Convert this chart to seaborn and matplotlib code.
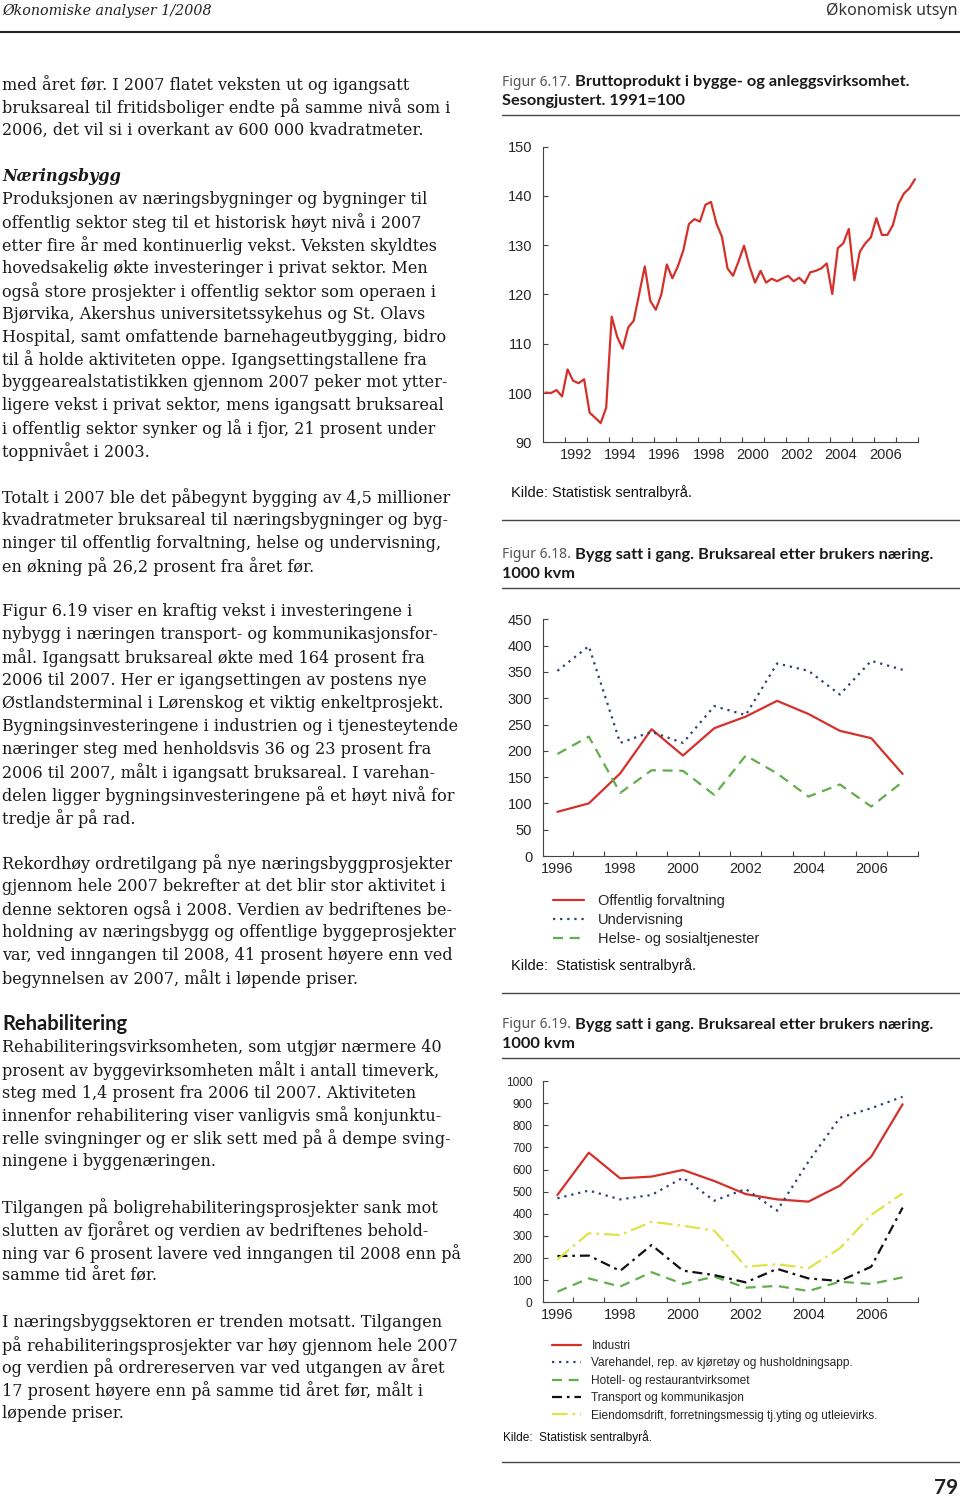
import matplotlib
matplotlib.use("Agg")
import matplotlib.pyplot as plt
from matplotlib.lines import Line2D
import numpy as np
import pandas as pd
import seaborn as sns

W, H = 960, 1499

# ------------------------------------------------------------
# Figur 6.17: bruttoprodukt, kvartalsvis 1991K1-2007K4 (1991=100)
# ------------------------------------------------------------
bp_years = list(range(1991, 2008))
bp_quarters = [1, 2, 3, 4]
bp_index = [
    100.1, 100.0, 100.6, 99.3,
    104.8, 102.5, 102.0, 102.8,
    96.0, 95.0, 93.9, 97.0,
    115.5, 111.4, 109.0, 113.3,
    114.7, 120.2, 125.7, 118.7,
    116.9, 120.0, 126.1, 123.3,
    125.7, 129.0, 134.3, 135.3,
    134.8, 138.2, 138.8, 134.4,
    131.7, 125.3, 123.8, 126.7,
    129.9, 125.7, 122.4, 124.8,
    122.4, 123.2, 122.7, 123.3,
    123.8, 122.7, 123.4, 122.3,
    124.5, 124.8, 125.3, 126.3,
    120.1, 129.4, 130.4, 133.3,
    122.9, 128.7, 130.4, 131.6,
    135.5, 132.1, 132.1, 134.1,
    138.4, 140.5, 141.6, 143.4,
]

# ------------------------------------------------------------
# Figur 6.18 / 6.19: bygg satt i gang, 1000 kvm
# ------------------------------------------------------------
aar = list(range(1996, 2008))

offentlig = [84, 100, 157, 241, 191, 243, 265, 295, 270, 238, 224, 156]
undervisning = [352, 399, 215, 236, 215, 285, 268, 366, 352, 307, 371, 354]
helse = [194, 227, 120, 163, 162, 116, 191, 157, 113, 136, 94, 141]

industri = [485, 676, 560, 568, 598, 548, 489, 465, 455, 527, 658, 895]
varehandel = [470, 505, 465, 485, 563, 459, 512, 414, 636, 834, 877, 929]
hotell = [48, 108, 71, 136, 83, 116, 66, 74, 51, 93, 83, 113]
transport = [209, 211, 142, 259, 143, 123, 90, 151, 108, 96, 161, 428]
eiendom = [194, 312, 304, 364, 346, 324, 161, 172, 154, 244, 395, 492]

names_618 = ["Offentlig forvaltning", "Undervisning", "Helse- og sosialtjenester"]
names_619 = [
    "Industri",
    "Varehandel, rep. av kjøretøy og husholdningsapp.",
    "Hotell- og restaurantvirksomet",
    "Transport og kommunikasjon",
    "Eiendomsdrift, forretningsmessig tj.yting og utleievirks.",
]

RED = "#d4312b"
BLUE = "#2f3f6e"
GREEN = "#62ad4c"
BLACK = "#111111"
YELLOW = "#dde448"

body_lines = [
    "med året før. I 2007 flatet veksten ut og igangsatt",
    "bruksareal til fritidsboliger endte på samme nivå som i",
    "2006, det vil si i overkant av 600 000 kvadratmeter.",
    "",
    "Næringsbygg",
    "Produksjonen av næringsbygninger og bygninger til",
    "offentlig sektor steg til et historisk høyt nivå i 2007",
    "etter fire år med kontinuerlig vekst. Veksten skyldtes",
    "hovedsakelig økte investeringer i privat sektor. Men",
    "også store prosjekter i offentlig sektor som operaen i",
    "Bjørvika, Akershus universitetssykehus og St. Olavs",
    "Hospital, samt omfattende barnehageutbygging, bidro",
    "til å holde aktiviteten oppe. Igangsettingstallene fra",
    "byggearealstatistikken gjennom 2007 peker mot ytter-",
    "ligere vekst i privat sektor, mens igangsatt bruksareal",
    "i offentlig sektor synker og lå i fjor, 21 prosent under",
    "toppnivået i 2003.",
    "",
    "Totalt i 2007 ble det påbegynt bygging av 4,5 millioner",
    "kvadratmeter bruksareal til næringsbygninger og byg-",
    "ninger til offentlig forvaltning, helse og undervisning,",
    "en økning på 26,2 prosent fra året før.",
    "",
    "Figur 6.19 viser en kraftig vekst i investeringene i",
    "nybygg i næringen transport- og kommunikasjonsfor-",
    "mål. Igangsatt bruksareal økte med 164 prosent fra",
    "2006 til 2007. Her er igangsettingen av postens nye",
    "Østlandsterminal i Lørenskog et viktig enkeltprosjekt.",
    "Bygningsinvesteringene i industrien og i tjenesteytende",
    "næringer steg med henholdsvis 36 og 23 prosent fra",
    "2006 til 2007, målt i igangsatt bruksareal. I varehan-",
    "delen ligger bygningsinvesteringene på et høyt nivå for",
    "tredje år på rad.",
    "",
    "Rekordhøy ordretilgang på nye næringsbyggprosjekter",
    "gjennom hele 2007 bekrefter at det blir stor aktivitet i",
    "denne sektoren også i 2008. Verdien av bedriftenes be-",
    "holdning av næringsbygg og offentlige byggeprosjekter",
    "var, ved inngangen til 2008, 41 prosent høyere enn ved",
    "begynnelsen av 2007, målt i løpende priser.",
    "",
    "Rehabilitering",
    "Rehabiliteringsvirksomheten, som utgjør nærmere 40",
    "prosent av byggevirksomheten målt i antall timeverk,",
    "steg med 1,4 prosent fra 2006 til 2007. Aktiviteten",
    "innenfor rehabilitering viser vanligvis små konjunktu-",
    "relle svingninger og er slik sett med på å dempe sving-",
    "ningene i byggenæringen.",
    "",
    "Tilgangen på boligrehabiliteringsprosjekter sank mot",
    "slutten av fjoråret og verdien av bedriftenes behold-",
    "ning var 6 prosent lavere ved inngangen til 2008 enn på",
    "samme tid året før.",
    "",
    "I næringsbyggsektoren er trenden motsatt. Tilgangen",
    "på rehabiliteringsprosjekter var høy gjennom hele 2007",
    "og verdien på ordrereserven var ved utgangen av året",
    "17 prosent høyere enn på samme tid året før, målt i",
    "løpende priser.",
]

sns.set_style("ticks")
plt.rcParams["font.family"] = ["Liberation Sans", "DejaVu Sans"]
plt.rcParams["axes.edgecolor"] = "#444444"
plt.rcParams["axes.linewidth"] = 0.8

SANS_HEAD = ["Lato", "Liberation Sans", "DejaVu Sans"]

fig = plt.figure(figsize=(W / 100, H / 100), dpi=100)
fig.patch.set_facecolor("white")


def X(px):
    return px / W


def Y(px):
    return 1 - px / H


def hline(x0, x1, ypx, lw=1.0, color="#444444"):
    fig.add_artist(Line2D([X(x0), X(x1)], [Y(ypx), Y(ypx)],
                          transform=fig.transFigure, lw=lw, color=color))


# ============================================================
# Page header, body text, page number
# ============================================================
fig.text(X(2), Y(11), "Økonomiske analyser 1/2008", family="DejaVu Serif",
         style="italic", size=10.3, va="center", color="#222222")
fig.text(X(958), Y(11), "Økonomisk utsyn", family="Noto Sans", size=11.5,
         ha="right", va="center", color="#333333")
hline(0, 960, 32, lw=1.5, color="#222222")

for i, line in enumerate(body_lines):
    if not line:
        continue
    y = Y(85 + i * 22.91)
    if line == "Næringsbygg":
        fig.text(X(2), y, line, family="DejaVu Serif", style="italic",
                 weight="bold", size=11.5, va="center", color="#1a1a1a")
    elif line == "Rehabilitering":
        fig.text(X(2), y, line, family=SANS_HEAD, weight="bold",
                 size=14.5, va="center", color="#1a1a1a")
    else:
        fig.text(X(2), y, line, family="DejaVu Serif", size=11.5,
                 va="center", color="#1a1a1a")

fig.text(X(958), Y(1488), "79", family=SANS_HEAD, weight="bold",
         size=15, ha="right", va="center", color="#222222")

# ============================================================
# Figure titles (light number + bold text)
# ============================================================
renderer = fig.canvas.get_renderer()


def fig_title(y1, nummer, linje1, linje2):
    t = fig.text(X(502), Y(y1), nummer, family="Noto Sans", size=10,
                 va="center", color="#555555")
    bb = t.get_window_extent(renderer)
    fig.text(bb.x1 / W + X(4), Y(y1), linje1, family=SANS_HEAD,
             weight="bold", size=11.8, va="center", color="#1a1a1a")
    fig.text(X(502), Y(y1 + 19), linje2, family=SANS_HEAD,
             weight="bold", size=11.8, va="center", color="#1a1a1a")


fig_title(82, "Figur 6.17.", "Bruttoprodukt i bygge- og anleggsvirksomhet.",
          "Sesongjustert. 1991=100")
hline(502, 960, 115)
fig.text(X(511), Y(493), "Kilde: Statistisk sentralbyrå.", size=10.5,
         va="center", color="#111111")
hline(502, 960, 520)

fig_title(555, "Figur 6.18.", "Bygg satt i gang. Bruksareal etter brukers næring.",
          "1000 kvm")
hline(502, 960, 588)
fig.text(X(511), Y(966), "Kilde:  Statistisk sentralbyrå.", size=10.5,
         va="center", color="#111111")
hline(502, 960, 993)

fig_title(1025, "Figur 6.19.", "Bygg satt i gang. Bruksareal etter brukers næring.",
          "1000 kvm")
hline(502, 960, 1058)
fig.text(X(503), Y(1437), "Kilde:  Statistisk sentralbyrå.", size=8.6,
         va="center", color="#111111")
hline(502, 960, 1462)


def style_axes(ax, ysize):
    sns.despine(ax=ax)
    ax.set_xlabel("")
    ax.set_ylabel("")
    ax.set_facecolor("white")
    ax.tick_params(axis="both", which="major", direction="in", length=3.5,
                   width=0.8, color="#444444")
    ax.tick_params(axis="y", labelsize=ysize, pad=8)
    ax.tick_params(axis="x", which="minor", length=0, labelsize=10.5, pad=4)
    ax.grid(False)


# ============================================================
# Figur 6.17
# ============================================================
df1 = pd.DataFrame({
    "år": np.repeat(bp_years, len(bp_quarters)),
    "kvartal": np.tile(bp_quarters, len(bp_years)),
    "indeks": bp_index,
})
df1["tid"] = df1["år"] + (df1["kvartal"] - 0.6) / 4

ax1 = fig.add_axes([X(543.3), Y(442.3), X(918.3) - X(543.3), (442.3 - 146.7) / H])
sns.lineplot(data=df1, x="tid", y="indeks", color=RED, lw=1.6, ax=ax1)
ax1.set_xlim(1991, 2008)
ax1.set_ylim(90, 150)
ax1.set_yticks(range(90, 151, 10))
ax1.set_xticks(range(1992, 2009), labels=[])
ax1.set_xticks([y + 0.5 for y in range(1992, 2007, 2)],
               labels=[str(y) for y in range(1992, 2007, 2)], minor=True)
style_axes(ax1, 10.5)

# ============================================================
# Figur 6.18
# ============================================================
df2 = pd.DataFrame({
    "år": aar * 3,
    "verdi": offentlig + undervisning + helse,
    "serie": np.repeat(names_618, len(aar)),
})
ax2 = fig.add_axes([X(543.3), Y(856), X(918.3) - X(543.3), (856 - 619.3) / H])
sns.lineplot(
    data=df2, x="år", y="verdi", hue="serie", style="serie",
    hue_order=names_618, style_order=names_618,
    palette=[RED, BLUE, GREEN],
    dashes={names_618[0]: "", names_618[1]: (1, 2.2), names_618[2]: (4.5, 3)},
    lw=1.6, ax=ax2,
)
ax2.set_xlim(1995.55, 2007.5)
ax2.set_ylim(0, 450)
ax2.set_yticks(range(0, 451, 50))
ax2.set_xticks([y + 0.5 for y in range(1996, 2008)], labels=[])
ax2.set_xticks(range(1996, 2007, 2), labels=[str(y) for y in range(1996, 2007, 2)],
               minor=True)
style_axes(ax2, 10.5)
sns.move_legend(
    ax2, loc="upper left", bbox_to_anchor=(X(553), Y(894)),
    bbox_transform=fig.transFigure, frameon=False, title=None,
    fontsize=10.5, handlelength=2.1, handletextpad=1.0, labelspacing=0.35,
    borderpad=0, borderaxespad=0,
)

# ============================================================
# Figur 6.19
# ============================================================
df3 = pd.DataFrame({
    "år": aar * 5,
    "verdi": industri + varehandel + hotell + transport + eiendom,
    "serie": np.repeat(names_619, len(aar)),
})
ax3 = fig.add_axes([X(543.3), Y(1302.3), X(918.3) - X(543.3), (1302.3 - 1081) / H])
sns.lineplot(
    data=df3, x="år", y="verdi", hue="serie", style="serie",
    hue_order=names_619, style_order=names_619,
    palette=[RED, BLUE, GREEN, BLACK, YELLOW],
    dashes={
        names_619[0]: "",
        names_619[1]: (1, 2.2),
        names_619[2]: (4.5, 3),
        names_619[3]: (4.5, 2.2, 1.2, 2.2),
        names_619[4]: (7, 2.2, 1.2, 2.2),
    },
    lw=1.6, ax=ax3,
)
ax3.set_xlim(1995.55, 2007.5)
ax3.set_ylim(0, 1000)
ax3.set_yticks(range(0, 1001, 100))
ax3.set_xticks([y + 0.5 for y in range(1996, 2008)], labels=[])
ax3.set_xticks(range(1996, 2007, 2), labels=[str(y) for y in range(1996, 2007, 2)],
               minor=True)
style_axes(ax3, 8.6)
sns.move_legend(
    ax3, loc="upper left", bbox_to_anchor=(X(552), Y(1340)),
    bbox_transform=fig.transFigure, frameon=False, title=None,
    fontsize=8.6, handlelength=2.4, handletextpad=0.9, labelspacing=0.45,
    borderpad=0, borderaxespad=0,
)

fig.savefig("out.png", dpi=100, facecolor="white")
plt.close(fig)
